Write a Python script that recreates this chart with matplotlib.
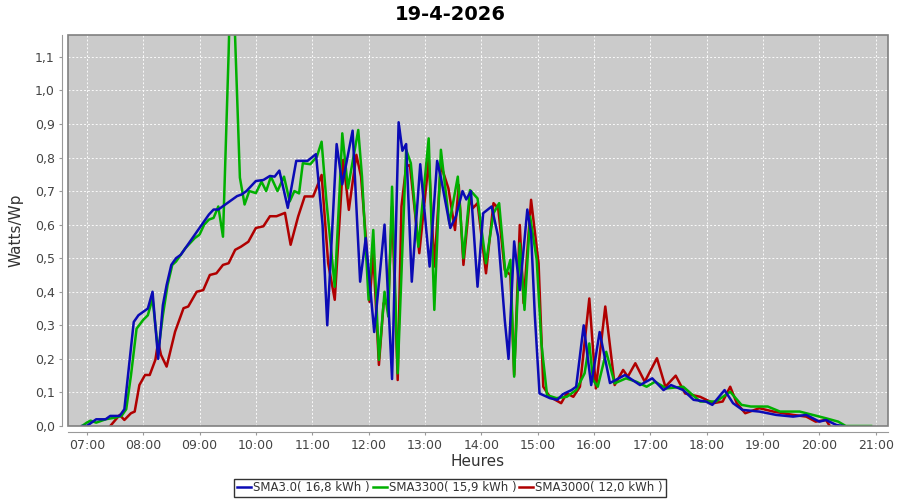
import matplotlib
matplotlib.use("Agg")
import matplotlib.pyplot as plt
from matplotlib.patches import Rectangle
from matplotlib.ticker import FuncFormatter, MultipleLocator

# SMA3.0
blue_times = ["06:55", "07:00", "07:05", "07:10", "07:20", "07:25", "07:35", "07:40", "07:45", "07:50",
              "07:55", "08:00", "08:05", "08:10", "08:16", "08:21", "08:25", "08:30", "08:35", "08:40",
              "08:45", "08:50", "08:55", "09:00", "09:05", "09:10", "09:15", "09:20", "09:25", "09:30",
              "09:35", "09:40", "09:45", "09:50", "09:55", "10:00", "10:08", "10:15", "10:20", "10:25",
              "10:34", "10:43", "10:55", "11:04", "11:11", "11:16", "11:26", "11:32", "11:43", "11:51",
              "11:57", "12:06", "12:17", "12:25", "12:32", "12:36", "12:40", "12:46", "12:55", "13:05",
              "13:13", "13:17", "13:27", "13:33", "13:40", "13:44", "13:49", "13:56", "14:02", "14:11",
              "14:18", "14:25", "14:29", "14:35", "14:41", "14:49", "14:53", "14:57", "15:02", "15:13",
              "15:21", "15:27", "15:36", "15:41", "15:49", "15:57", "16:06", "16:17", "16:33", "16:49",
              "17:02", "17:14", "17:22", "17:35", "17:46", "17:59", "18:06", "18:19", "18:28", "18:38",
              "18:56", "19:14", "19:32", "19:46", "20:00", "20:07", "20:18", "20:25"]
blue_vals = [0.0, 0.0, 0.01, 0.02, 0.02, 0.03, 0.03, 0.05, 0.18, 0.31,
             0.33, 0.34, 0.35, 0.40, 0.20, 0.36, 0.42, 0.48, 0.50, 0.51,
             0.53, 0.55, 0.57, 0.59, 0.61, 0.63, 0.645, 0.645, 0.655, 0.665,
             0.675, 0.685, 0.69, 0.70, 0.715, 0.73, 0.733, 0.745, 0.743, 0.761,
             0.65, 0.79, 0.79, 0.81, 0.60, 0.30, 0.84, 0.72, 0.88, 0.43,
             0.56, 0.28, 0.60, 0.14, 0.905, 0.82, 0.84, 0.43, 0.78, 0.475,
             0.79, 0.74, 0.59, 0.625, 0.70, 0.675, 0.70, 0.415, 0.634, 0.654,
             0.564, 0.316, 0.20, 0.55, 0.405, 0.645, 0.574, 0.33, 0.097, 0.083,
             0.078, 0.095, 0.107, 0.117, 0.30, 0.122, 0.28, 0.128, 0.152, 0.122,
             0.142, 0.107, 0.122, 0.107, 0.078, 0.073, 0.063, 0.107, 0.068, 0.048,
             0.043, 0.033, 0.028, 0.033, 0.013, 0.018, 0.003, 0.0]

# SMA3300
green_times = ["06:55", "07:00", "07:04", "07:10", "07:15", "07:20", "07:30", "07:37", "07:42", "07:47",
               "07:53", "08:00", "08:05", "08:10", "08:16", "08:21", "08:26", "08:31", "08:35", "08:40",
               "08:45", "08:50", "08:55", "09:00", "09:05", "09:10", "09:15", "09:20", "09:25", "09:31",
               "09:34", "09:38", "09:43", "09:48", "09:53", "10:00", "10:06", "10:11", "10:16", "10:23",
               "10:30", "10:36", "10:41", "10:46", "10:50", "10:58", "11:05", "11:10", "11:15", "11:24",
               "11:29", "11:32", "11:38", "11:49", "11:53", "12:00", "12:05", "12:11", "12:17", "12:21",
               "12:25", "12:31", "12:40", "12:45", "12:53", "13:04", "13:10", "13:17", "13:26", "13:35",
               "13:41", "13:48", "13:56", "14:05", "14:13", "14:19", "14:26", "14:31", "14:35", "14:41",
               "14:46", "14:52", "14:59", "15:04", "15:10", "15:20", "15:31", "15:41", "15:50", "15:55",
               "15:59", "16:04", "16:13", "16:22", "16:34", "16:45", "16:56", "17:05", "17:17", "17:35",
               "17:53", "18:10", "18:25", "18:37", "18:47", "19:05", "19:18", "19:39", "19:53", "20:07",
               "20:20", "20:28", "20:55"]
green_vals = [0.0, 0.01, 0.016, 0.01, 0.015, 0.02, 0.025, 0.03, 0.05, 0.15,
              0.29, 0.316, 0.33, 0.38, 0.22, 0.33, 0.42, 0.48, 0.49, 0.51,
              0.53, 0.545, 0.56, 0.57, 0.60, 0.615, 0.62, 0.654, 0.564, 1.11,
              1.45, 1.15, 0.74, 0.66, 0.70, 0.694, 0.728, 0.70, 0.743, 0.70,
              0.743, 0.669, 0.70, 0.693, 0.783, 0.78, 0.803, 0.847, 0.674, 0.415,
              0.693, 0.872, 0.708, 0.882, 0.743, 0.376, 0.584, 0.197, 0.40, 0.326,
              0.713, 0.157, 0.823, 0.783, 0.534, 0.857, 0.346, 0.823, 0.604, 0.743,
              0.50, 0.703, 0.678, 0.485, 0.634, 0.664, 0.445, 0.495, 0.147, 0.544,
              0.346, 0.624, 0.495, 0.246, 0.092, 0.083, 0.087, 0.107, 0.157, 0.246,
              0.137, 0.117, 0.221, 0.127, 0.142, 0.132, 0.117, 0.132, 0.112, 0.117,
              0.073, 0.073, 0.102, 0.063, 0.058, 0.058, 0.043, 0.043, 0.033, 0.023,
              0.013, 0.0, 0.0]

# SMA3000
red_times = ["07:25", "07:35", "07:40", "07:47", "07:51", "07:56", "08:02", "08:07", "08:13", "08:16",
             "08:19", "08:25", "08:34", "08:43", "08:48", "08:57", "09:04", "09:11", "09:18", "09:25",
             "09:31", "09:38", "09:44", "09:52", "10:00", "10:08", "10:15", "10:22", "10:31", "10:37",
             "10:45", "10:52", "11:01", "11:10", "11:17", "11:24", "11:33", "11:39", "11:47", "11:52",
             "11:57", "12:01", "12:05", "12:11", "12:16", "12:21", "12:25", "12:31", "12:35", "12:40",
             "12:44", "12:54", "13:02", "13:04", "13:10", "13:17", "13:25", "13:32", "13:36", "13:41",
             "13:48", "13:51", "13:56", "14:05", "14:13", "14:18", "14:25", "14:31", "14:35", "14:41",
             "14:45", "14:53", "15:01", "15:06", "15:13", "15:25", "15:31", "15:38", "15:45", "15:55",
             "16:02", "16:12", "16:22", "16:31", "16:36", "16:44", "16:54", "17:07", "17:16", "17:27",
             "17:37", "17:53", "18:07", "18:17", "18:25", "18:32", "18:41", "18:56", "19:11", "19:32",
             "19:46", "19:56", "20:07", "20:11"]
red_vals = [0.0, 0.033, 0.018, 0.038, 0.043, 0.122, 0.152, 0.152, 0.197, 0.251,
            0.212, 0.177, 0.281, 0.351, 0.356, 0.40, 0.405, 0.45, 0.455, 0.48,
            0.485, 0.525, 0.534, 0.549, 0.59, 0.595, 0.625, 0.625, 0.635, 0.54,
            0.624, 0.684, 0.684, 0.748, 0.485, 0.376, 0.793, 0.644, 0.808, 0.743,
            0.564, 0.37, 0.515, 0.182, 0.366, 0.366, 0.654, 0.137, 0.654, 0.773,
            0.778, 0.515, 0.733, 0.798, 0.475, 0.778, 0.708, 0.584, 0.718, 0.48,
            0.684, 0.649, 0.664, 0.455, 0.664, 0.649, 0.465, 0.45, 0.152, 0.599,
            0.366, 0.674, 0.485, 0.117, 0.087, 0.068, 0.097, 0.087, 0.117, 0.38,
            0.112, 0.356, 0.122, 0.167, 0.147, 0.187, 0.132, 0.202, 0.117, 0.15,
            0.097, 0.087, 0.068, 0.073, 0.117, 0.068, 0.038, 0.053, 0.043, 0.033,
            0.028, 0.013, 0.018, 0.0]

series_names = ["SMA3.0( 16,8 kWh )", "SMA3300( 15,9 kWh )", "SMA3000( 12,0 kWh )"]
series_colors = ["#0B0BB5", "#00B000", "#B00000"]
hour_ticks = list(range(7, 22))


def to_hours(times):
    return [int(t[:2]) + int(t[3:]) / 60 for t in times]


fig = plt.figure(figsize=(9, 5), dpi=100)
ax = fig.add_axes([68 / 900, 1 - 426 / 500, 820 / 900, 391 / 500])
ax.set_facecolor("#CBCBCB")

data = [(blue_times, blue_vals), (green_times, green_vals), (red_times, red_vals)]
zorders = [5, 4, 3]
for (times, vals), name, color, z in zip(data, series_names, series_colors, zorders):
    ax.plot(to_hours(times), vals, color=color, lw=1.8, label=name, zorder=z,
            solid_joinstyle="round")

ax.set_xlim(6 + 40 / 60, 21 + 13 / 60)
ax.set_ylim(0, 1.165)
ax.set_xticks(hour_ticks)
ax.xaxis.set_major_formatter(FuncFormatter(lambda v, p: f"{int(round(v)):02d}:00"))
ax.yaxis.set_major_locator(MultipleLocator(0.1))
ax.yaxis.set_major_formatter(FuncFormatter(lambda v, p: f"{v:.1f}".replace(".", ",")))

ax.grid(True, color="white", linestyle=(0, (2, 2)), linewidth=0.7, alpha=0.9)
ax.set_axisbelow(True)

for side in ["top", "right", "left", "bottom"]:
    ax.spines[side].set_visible(False)
ax.add_patch(Rectangle((0, 0), 1, 1, transform=ax.transAxes, fill=False,
                       edgecolor="#808080", lw=1.2, zorder=10, clip_on=False))
ax.spines["left"].set_visible(True)
ax.spines["left"].set_position(("outward", 4))
ax.spines["left"].set_color("#999999")
ax.spines["bottom"].set_visible(True)
ax.spines["bottom"].set_position(("outward", 4))
ax.spines["bottom"].set_color("#999999")

ax.tick_params(axis="both", colors="#999999", labelcolor="#444444", labelsize=9, length=2)

ax.set_ylabel("Watts/Wp", fontsize=11, color="#333333", labelpad=8)
ax.set_xlabel("Heures", fontsize=11, color="#333333", labelpad=1)
fig.text(0.5, 0.972, "19-4-2026", ha="center", va="center", fontsize=14, fontweight="bold")

leg = fig.legend(loc="center", bbox_to_anchor=(0.5, 0.024), ncol=3, fontsize=8.5,
                 frameon=True, fancybox=False, edgecolor="black", handlelength=1.2,
                 handletextpad=0.15, columnspacing=0.25, borderpad=0.25, labelcolor="#333333")
leg.get_frame().set_linewidth(1.0)

fig.savefig("out.png", dpi=100)
